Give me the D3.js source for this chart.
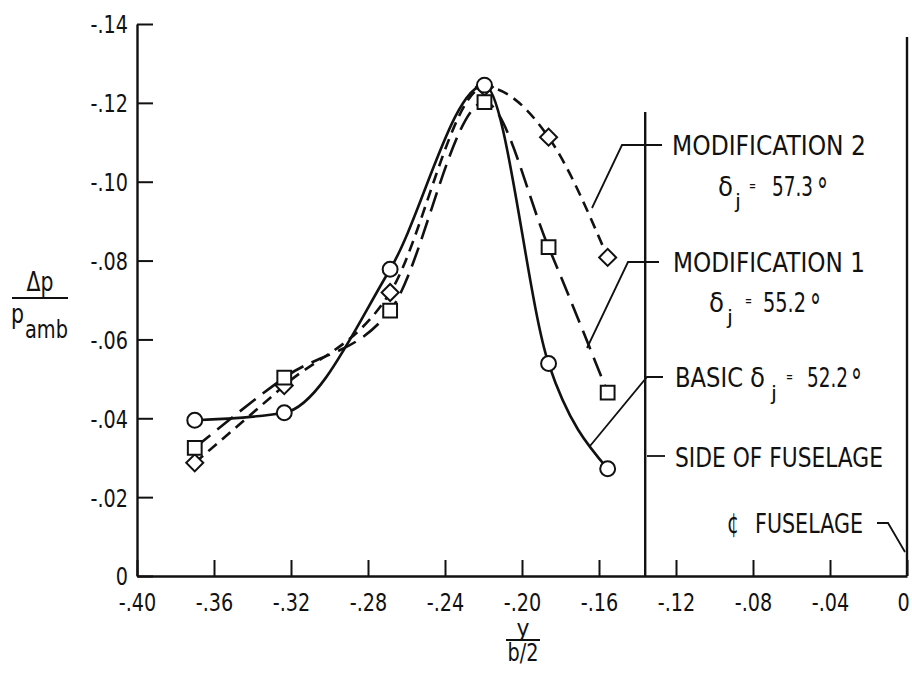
<!DOCTYPE html>
<html>
<head>
<meta charset="utf-8">
<title>spanwise pressure increment</title>
<script src="https://d3js.org/d3.v7.min.js"></script>
<style>
    body { margin: 0; background: #fff; }
    svg { display: block; }
    text { font-family: "DejaVu Sans", sans-serif; fill: #111; }
</style>
</head>
<body>
<svg width="912" height="679"></svg>
<script>
    // spanwise stations, y/(b/2)
    var stations = [-0.370, -0.3235, -0.2685, -0.2195, -0.1862, -0.1555];

    // delta p / p amb at each station
    var basic = [-0.0395, -0.0414, -0.0778, -0.1245, -0.0539, -0.0272];
    var mod1 = [-0.0325, -0.0503, -0.0673, -0.1202, -0.0834, -0.0465];
    var mod2 = [-0.0287, -0.0483, -0.0719, -0.1240, -0.1113, -0.0808];

    // axis ticks
    var xTicks = [-0.40, -0.36, -0.32, -0.28, -0.24, -0.20, -0.16, -0.12, -0.08, -0.04, 0];
    var xTickLabels = ["-.40", "-.36", "-.32", "-.28", "-.24", "-.20", "-.16", "-.12", "-.08", "-.04", "0"];
    var yTicks = [0, -0.02, -0.04, -0.06, -0.08, -0.10, -0.12, -0.14];
    var yTickLabels = ["0", "-.02", "-.04", "-.06", "-.08", "-.10", "-.12", "-.14"];

    // side of fuselage station
    var sideOfFuselage = -0.136;

    var svg = d3.select("svg");

    var x = d3.scaleLinear().domain([-0.40, 0]).range([137, 907]);
    var y = d3.scaleLinear().domain([0, -0.14]).range([576, 24]);

    var squeeze = 0.8; // lettering is narrow

    // x axis, ticks pointing up
    var xAxis = svg.append("g")
        .attr("transform", "translate(0," + y(0) + ")")
        .call(d3.axisBottom(x)
            .tickValues(xTicks)
            .tickSizeInner(-16)
            .tickSizeOuter(0)
            .tickFormat(function(d, i) { return xTickLabels[i]; }));

    // y axis, ticks pointing right
    var yAxis = svg.append("g")
        .attr("transform", "translate(" + x(-0.40) + ",0)")
        .call(d3.axisLeft(y)
            .tickValues(yTicks)
            .tickSizeInner(-16)
            .tickSizeOuter(0)
            .tickFormat(function(d, i) { return yTickLabels[i]; }));

    svg.selectAll(".domain").attr("stroke", "#111").attr("stroke-width", 2.4);
    svg.selectAll(".tick line").attr("stroke", "#111").attr("stroke-width", 2);

    xAxis.selectAll("text")
        .attr("font-family", "DejaVu Sans")
        .attr("font-size", 24)
        .attr("fill", "#111")
        .attr("y", 35)
        .attr("dy", null)
        .attr("x", function(d) { return d === 0 ? -4 / squeeze : 0; })
        .attr("transform", "scale(" + squeeze + ",1)");

    yAxis.selectAll("text")
        .attr("font-family", "DejaVu Sans")
        .attr("font-size", 24)
        .attr("fill", "#111")
        .attr("x", -9 / squeeze)
        .attr("dy", "0.37em")
        .attr("transform", "scale(" + squeeze + ",1)");

    // right edge (centerline) and side of fuselage
    svg.append("line")
        .attr("x1", x(0)).attr("x2", x(0))
        .attr("y1", 37).attr("y2", y(0))
        .attr("stroke", "#111").attr("stroke-width", 2.4);
    svg.append("line")
        .attr("x1", x(sideOfFuselage)).attr("x2", x(sideOfFuselage))
        .attr("y1", 112).attr("y2", y(0))
        .attr("stroke", "#111").attr("stroke-width", 2.4);

    // faired curves
    var line = d3.line()
        .x(function(d) { return x(d[0]); })
        .y(function(d) { return y(d[1]); })
        .curve(d3.curveMonotoneX);

    var series = [
        { name: "basic", values: basic, dash: null, marker: "circle" },
        { name: "mod1", values: mod1, dash: "20,9", marker: "square" },
        { name: "mod2", values: mod2, dash: "11,7", marker: "diamond" }
    ];

    series.forEach(function(s) {
        svg.append("path")
            .datum(d3.zip(stations, s.values))
            .attr("d", line)
            .attr("fill", "none")
            .attr("stroke", "#111")
            .attr("stroke-width", 2.6)
            .attr("stroke-dasharray", s.dash);
    });

    // markers on top
    var symbols = {
        circle: d3.symbol().type(d3.symbolCircle).size(175),
        square: d3.symbol().type(d3.symbolSquare).size(190),
        diamond: d3.symbol().type(d3.symbolSquare).size(145)
    };

    series.slice().reverse().forEach(function(s) {
        svg.selectAll(".m-" + s.name)
            .data(d3.zip(stations, s.values))
            .enter()
            .append("path")
            .attr("class", "m-" + s.name)
            .attr("d", symbols[s.marker])
            .attr("transform", function(d) {
                var t = "translate(" + x(d[0]) + "," + y(d[1]) + ")";
                return s.marker === "diamond" ? t + " rotate(45)" : t;
            })
            .attr("fill", "#fff")
            .attr("stroke", "#111")
            .attr("stroke-width", 2);
    });

    // lettering helper: squeeze text horizontally to a given width
    function addText(str, px, py, size, width, anchor) {
        var t = svg.append("text")
            .attr("x", 0)
            .attr("y", 0)
            .attr("font-size", size)
            .text(str);
        if (anchor) t.attr("text-anchor", anchor);
        var sx = width ? width / t.node().getComputedTextLength() : 1;
        t.attr("transform", "translate(" + px + "," + py + ") scale(" + sx + ",1)");
        return t;
    }

    // leader lines
    var leader = d3.line();
    var leaders = [
        [[662, 145], [622, 145], [592, 208]],
        [[659, 262], [628, 262], [587, 348]],
        [[663, 377], [647, 377], [590, 446]],
        [[647, 456], [665, 456]],
        [[877, 523], [888, 523], [905, 552]]
    ];
    leaders.forEach(function(p) {
        svg.append("path")
            .attr("d", leader(p))
            .attr("fill", "none")
            .attr("stroke", "#111")
            .attr("stroke-width", 1.8);
    });

    // labels
    addText("MODIFICATION 2", 672, 155, 27, 194);
    addText("\u03b4", 718, 196, 26, 15);
    addText("j", 735, 208, 20, 6);
    addText("=", 749, 191, 14, 7);
    addText("57.3", 772, 196, 26, 41);
    addText("\u00b0", 817, 203, 36, 11);

    addText("MODIFICATION 1", 673, 272, 27, 192);
    addText("\u03b4", 709, 312, 26, 15);
    addText("j", 727, 324, 20, 6);
    addText("=", 745, 306, 14, 7);
    addText("55.2", 763, 312, 26, 43);
    addText("\u00b0", 810, 319, 36, 11);

    addText("BASIC", 675, 387, 27, 68);
    addText("\u03b4", 750, 387, 26, 15);
    addText("j", 771, 400, 20, 6);
    addText("=", 786, 382, 14, 7);
    addText("52.2", 807, 387, 26, 41);
    addText("\u00b0", 851, 394, 36, 11);

    addText("SIDE OF FUSELAGE", 675, 467, 27, 208);
    addText("\u00a2", 727, 533, 28, 12);
    addText("FUSELAGE", 755, 533, 27, 108);

    // y axis title
    addText("\u0394p", 40, 291, 26, 27, "middle");
    svg.append("line")
        .attr("x1", 12).attr("x2", 68)
        .attr("y1", 298).attr("y2", 298)
        .attr("stroke", "#111").attr("stroke-width", 2);
    addText("p", 11, 323, 27, 13);
    addText("amb", 25, 338, 24, 43);

    // x axis title
    addText("y", 523, 636, 23, 13, "middle");
    svg.append("line")
        .attr("x1", 506).attr("x2", 540)
        .attr("y1", 640).attr("y2", 640)
        .attr("stroke", "#111").attr("stroke-width", 2);
    addText("b/2", 523, 661, 24, 31, "middle");
</script>
</body>
</html>
